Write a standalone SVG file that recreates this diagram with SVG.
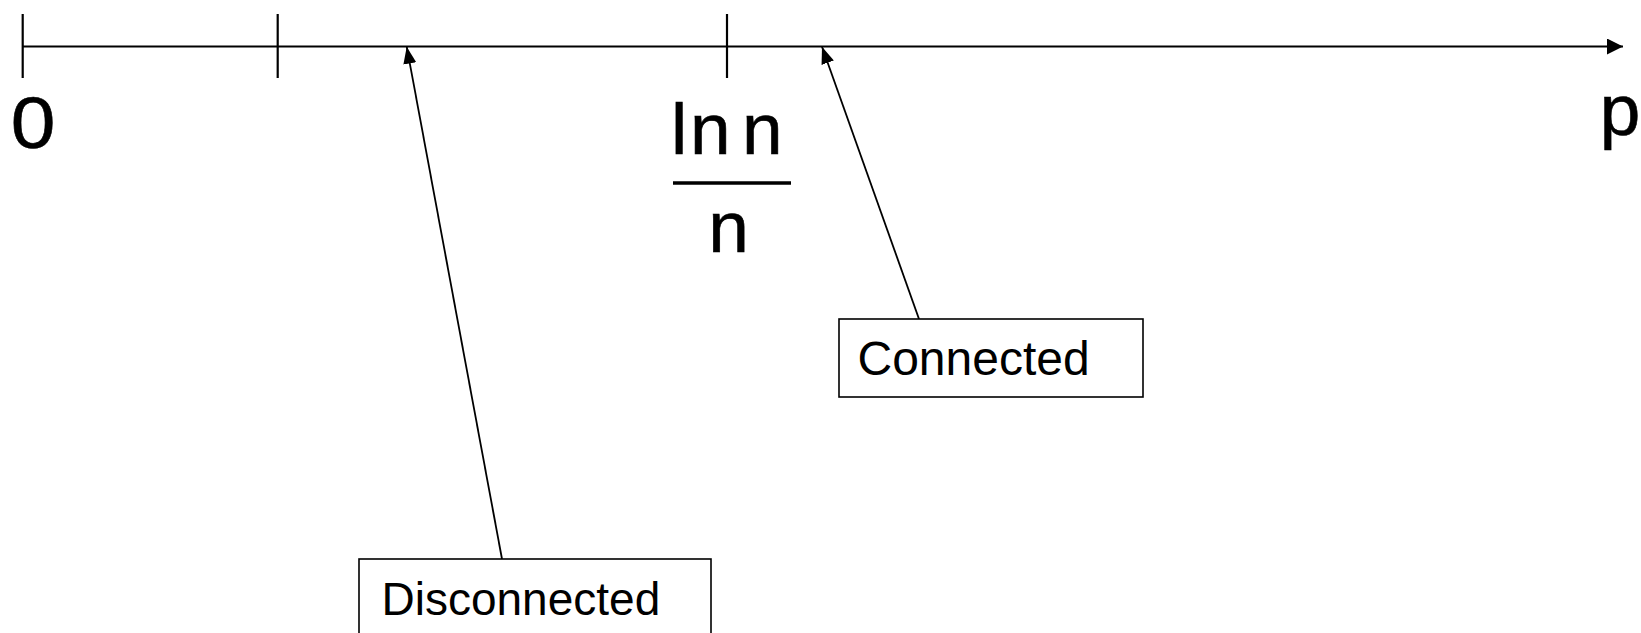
<svg xmlns="http://www.w3.org/2000/svg" width="1641" height="633" viewBox="0 0 1641 633">
  <style>
    .axis { stroke: #000; stroke-width: 2.2; fill: none; }
    .tick { stroke: #000; stroke-width: 2.2; }
    .lbl { font-family: "Liberation Sans", Arial, sans-serif; fill: #000; }
    .big { font-size: 73px; stroke: #000; stroke-width: 0.6; }
    .box { fill: #fff; stroke: #000; stroke-width: 1.6; }
    .conn { stroke: #000; stroke-width: 1.8; fill: none; }
  </style>
  <defs>
    <marker id="axisHead" markerUnits="userSpaceOnUse" markerWidth="18" markerHeight="16" refX="16" refY="8" orient="auto">
      <path d="M0,0 L16,8 L0,16 Z" fill="#000"/>
    </marker>
    <marker id="ptrHead" markerUnits="userSpaceOnUse" markerWidth="18" markerHeight="14" refX="17" refY="6.5" orient="auto">
      <path d="M0,0 L17,6.5 L0,13 Z" fill="#000"/>
    </marker>
  </defs>

  <!-- p axis with tick marks -->
  <g id="axis">
    <line class="axis" x1="22.7" y1="46.5" x2="1623" y2="46.5" marker-end="url(#axisHead)"/>
    <line class="tick" x1="22.7" y1="14" x2="22.7" y2="78"/>
    <line class="tick" x1="277.7" y1="14" x2="277.7" y2="78"/>
    <line class="tick" x1="727" y1="14" x2="727" y2="78"/>
  </g>

  <g id="label-zero">
    <text class="lbl big" transform="translate(33,148) scale(1.1,1)" x="0" y="0" font-size="71" text-anchor="middle">0</text>
  </g>

  <g id="label-p">
    <text class="lbl big" x="1620" y="135" font-size="80" text-anchor="middle">p</text>
  </g>

  <!-- threshold ln n / n -->
  <g id="label-threshold">
    <text class="lbl big" y="154"><tspan x="671">l</tspan><tspan x="690">n</tspan><tspan x="742">n</tspan></text>
    <line x1="673" y1="183" x2="791" y2="183" stroke="#000" stroke-width="3.5"/>
    <text class="lbl big" x="728.5" y="252" text-anchor="middle">n</text>
  </g>

  <!-- pointers from the boxes to the axis -->
  <g id="connectors">
    <line class="conn" x1="502" y1="559" x2="406.7" y2="46.7" marker-end="url(#ptrHead)"/>
    <line class="conn" x1="919" y1="319" x2="822" y2="46.7" marker-end="url(#ptrHead)"/>
  </g>

  <g id="node-connected">
    <rect class="box" x="839" y="319" width="304" height="78"/>
    <text class="lbl" x="857.5" y="375" font-size="48">Connected</text>
  </g>

  <g id="node-disconnected">
    <rect class="box" x="359" y="559" width="352" height="90"/>
    <text class="lbl" x="381.5" y="615" font-size="46">Disconnected</text>
  </g>
</svg>
